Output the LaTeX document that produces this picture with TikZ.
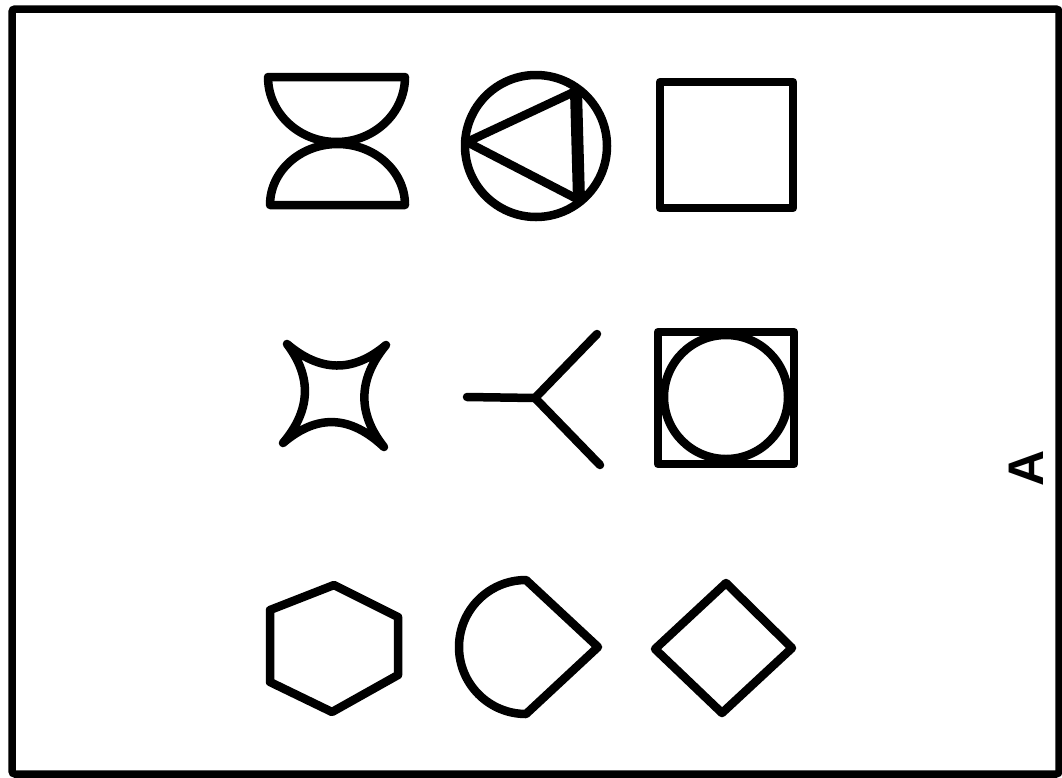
\documentclass[tikz,border=0pt]{standalone}
\usepackage{fontspec}
\setsansfont{Liberation Sans}
\tikzset{
  shp/.style={line width=8.5pt, line join=round, line cap=round},
  frame/.style={line width=7.5pt, rounded corners=3pt}
}
\begin{document}
\begin{tikzpicture}[x=1pt,y=-1pt]
\useasboundingbox (0,0) rectangle (1062,777);
\draw[frame] (12,9) rectangle (1059,774);

% row 1
\draw[shp] (268,77) -- (405,77) arc[start angle=0, end angle=180, x radius=68.5, y radius=65] -- cycle;
\draw[shp] (270,205) -- (405,205) arc[start angle=0, end angle=-180, x radius=67.5, y radius=61] -- cycle;

\draw[shp] (536,146) circle[radius=71];
\coordinate (tl) at (467,142);
\coordinate (tt) at (576,91);
\coordinate (tb) at (579,200);
\draw[shp] (tt) -- (tl) -- (tb);
\draw[shp, line width=12pt] (tt) -- (tb);

\draw[shp] (660,82) rectangle (793,208);

% row 2
\coordinate (c1) at (287,344);
\coordinate (c2) at (386,345);
\coordinate (c3) at (384,447);
\coordinate (c4) at (283,443);
\draw[shp] (c1) .. controls (320,372) and (353,373) .. (c2)
  .. controls (358,379) and (357,413) .. (c3)
  .. controls (350,415) and (317,414) .. (c4)
  .. controls (311,410) and (312,377) .. (c1);

\coordinate (ys) at (467,397);
\coordinate (yj) at (535,398);
\coordinate (yu) at (597,334);
\coordinate (yd) at (600,465);
\draw[shp] (ys) -- (yj) -- (yu);
\draw[shp] (yj) -- (yd);

\draw[shp] (658,332) rectangle (794,464);
\draw[shp] (726,397) circle[radius=62];

% row 3
\draw[shp] (334,585) -- (398,617) -- (398,675) -- (332,712) -- (270,682) -- (270,610) -- cycle;

\draw[shp] (526,580) arc[start angle=270, end angle=90, radius=67] -- (598,647) -- cycle;

\draw[shp] (726,583) -- (792,648) -- (722,713) -- (655,649) -- cycle;

\node[rotate=90, font=\sffamily\bfseries\fontsize{50}{50}\selectfont, inner sep=0pt] (lbl) at (1026,468) {A};
\end{tikzpicture}
\end{document}
